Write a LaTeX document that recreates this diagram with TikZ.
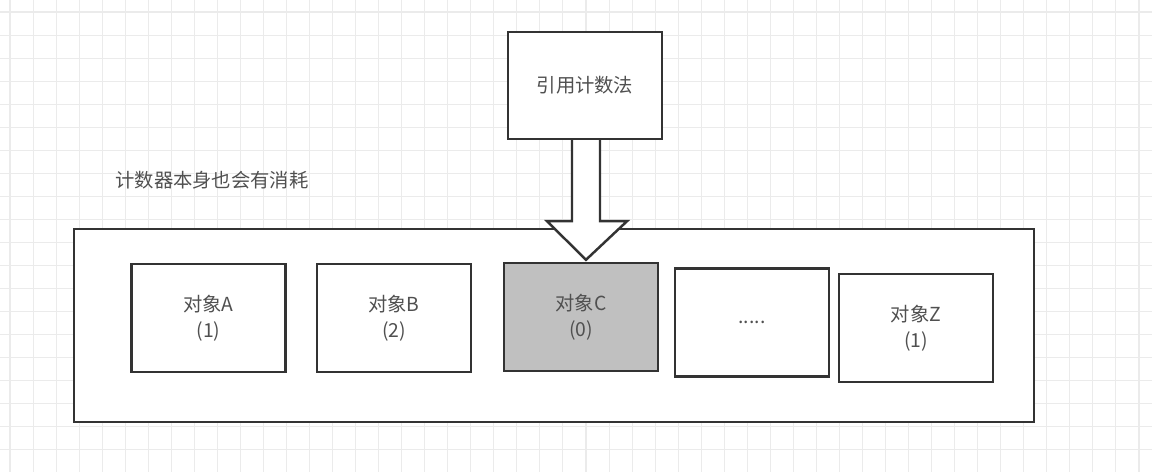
\documentclass[tikz,border=0pt]{standalone}
\usepackage{fontspec}
\setmainfont{Noto Sans CJK SC}
\usepackage{tikz}
\usetikzlibrary{calc}

\definecolor{linegray}{HTML}{333333}
\definecolor{textgray}{HTML}{505050}
\definecolor{gridgray}{HTML}{EBEBEB}
\definecolor{hitgray}{HTML}{C0C0C0}

\begin{document}
\begin{tikzpicture}[
  x=0.02cm, y=-0.02cm,
  gridline/.style={draw=gridgray, line width=0.6pt},
  box/.style={draw=linegray, line width=1.4pt, fill=white, align=center,
    text=textgray, font=\fontsize{11}{15}\selectfont, inner sep=0pt},
  objbox/.style={box, minimum width=3.08cm, minimum height=2.16cm},
  hollowarrow/.style={draw=linegray, line width=1.4pt, fill=white, line join=miter}
]
\useasboundingbox (0,0) rectangle (1152,472);

% background grid
\foreach \gx in {0,...,49}
  \draw[gridline] ({10+\gx*23.04},0) -- ++(0,472);
\foreach \gy in {0,...,20}
  \draw[gridline] (0,{12+\gy*23.04}) -- ++(1152,0);

\node[box, minimum width=19.2cm, minimum height=3.86cm] (heap) at (554,325.5) {};
\node[box, minimum width=3.08cm, minimum height=2.14cm] (method) at (585,85.5) {引用计数法};
\node[anchor=west, inner sep=0pt, text=textgray, font=\fontsize{11}{15}\selectfont]
  (cost) at (115,180) {计数器本身也会有消耗};

\node[objbox] (objA) at (208.5,318) {对象A\\(1)};
\node[objbox] (objB) at (394,318) {对象B\\(2)};
\node[objbox, fill=hitgray] (objC) at (581,317) {对象C\\(0)};
\node[objbox] (objDots) at (752,322.5) {.....};
\node[objbox] (objZ) at (916,328) {对象Z\\(1)};

% hollow arrow from method to object C
\coordinate (tip) at ($(objC.north)+(5,-2)$);
\draw[hollowarrow]
  ($(method.south)+(-13,0)$) -- ($(method.south)+(-13,81)$) --
  ($(method.south)+(-38,81)$) -- (tip) --
  ($(method.south)+(42,81)$) -- ($(method.south)+(15,81)$) --
  ($(method.south)+(15,0)$);
\end{tikzpicture}
\end{document}
